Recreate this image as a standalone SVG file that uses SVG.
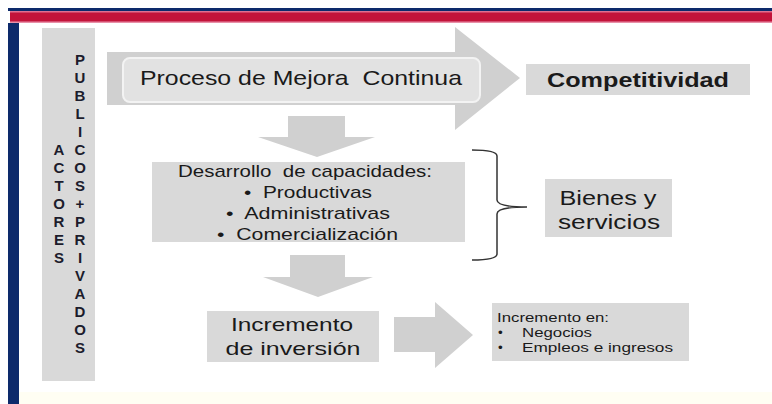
<svg xmlns="http://www.w3.org/2000/svg" width="772" height="404" viewBox="0 0 772 404">
<style>
.arrow{fill:#d0d0d0}
.box{fill:#d9d9d9}
.t{font-family:"Liberation Sans",Arial,sans-serif;fill:#1a1a1a}
.v{font-family:"Liberation Sans",Arial,sans-serif;font-weight:bold;font-size:15px;fill:#1c1c2c;text-anchor:middle}
.c{text-anchor:middle}
</style>
<rect x="0" y="0" width="772" height="404" fill="#ffffff"/>
<rect x="19" y="392" width="753" height="12" fill="#fffef3"/>
<g id="frame">
<rect x="8" y="8" width="764" height="3" fill="#0d2a6b"/>
<rect x="10" y="11" width="762" height="12" fill="#c3133a"/>
<rect x="10" y="11" width="762" height="1.5" fill="#e07090"/>
<rect x="10" y="21.5" width="762" height="1.5" fill="#e890a8"/>
<rect x="8" y="23" width="11" height="381" fill="#0d2a6b"/>
</g>
<g id="actores">
<rect class="box" x="42" y="28" width="53" height="353"/>
<text class="v" x="59"><tspan x="59" y="155">A</tspan><tspan x="59" y="173">C</tspan><tspan x="59" y="191">T</tspan><tspan x="59" y="209">O</tspan><tspan x="59" y="227">R</tspan><tspan x="59" y="245">E</tspan><tspan x="59" y="263">S</tspan></text>
<text class="v" x="80"><tspan x="80" y="65">P</tspan><tspan x="80" y="83">U</tspan><tspan x="80" y="101">B</tspan><tspan x="80" y="119">L</tspan><tspan x="80" y="137">I</tspan><tspan x="80" y="155">C</tspan><tspan x="80" y="173">O</tspan><tspan x="80" y="191">S</tspan><tspan x="80" y="209">+</tspan><tspan x="80" y="227">P</tspan><tspan x="80" y="245">R</tspan><tspan x="80" y="263">I</tspan><tspan x="80" y="281">V</tspan><tspan x="80" y="299">A</tspan><tspan x="80" y="317">D</tspan><tspan x="80" y="335">O</tspan><tspan x="80" y="353">S</tspan></text>
</g>
<g id="connectors">
<polygon class="arrow" points="107,52 455,52 455,27 520,78 455,130 455,105 107,105"/>
<polygon class="arrow" points="288,116 345,116 345,137 375,137 317,157 258,137 288,137"/>
<polygon class="arrow" points="290,255 345,255 345,277 373,277 318,297 263,277 290,277"/>
<polygon class="arrow" points="394,317 435,317 435,302 473,335 435,368 435,352 394,352"/>
<path d="M472,150 Q497,150 497,156 L497,200 Q497,207 527,207 Q497,207 497,214 L497,254 Q497,260 472,260" fill="none" stroke="#333333" stroke-width="1.5"/>
</g>
<g id="proceso">
<rect x="123" y="58" width="357" height="44" rx="7" fill="#e2e2e2" stroke="#f3f3f3" stroke-width="2"/>
<text class="t c" x="301" y="85" font-size="21" textLength="322" lengthAdjust="spacingAndGlyphs" xml:space="preserve">Proceso de Mejora  Continua</text>
</g>
<g id="competitividad">
<rect class="box" x="526" y="64" width="224" height="31"/>
<text class="t c" x="638" y="87" font-size="20" font-weight="bold" textLength="182" lengthAdjust="spacingAndGlyphs">Competitividad</text>
</g>
<g id="desarrollo">
<rect class="box" x="152" y="162" width="313" height="80"/>
<text class="t" x="178" y="177" font-size="17" textLength="254" lengthAdjust="spacingAndGlyphs" xml:space="preserve">Desarrollo  de capacidades:</text>
<text class="t" x="244" y="198" font-size="17" textLength="128" lengthAdjust="spacingAndGlyphs" xml:space="preserve">•  Productivas</text>
<text class="t" x="226" y="219" font-size="17" textLength="164" lengthAdjust="spacingAndGlyphs" xml:space="preserve">•  Administrativas</text>
<text class="t" x="217" y="240" font-size="17" textLength="181" lengthAdjust="spacingAndGlyphs" xml:space="preserve">•  Comercialización</text>
</g>
<g id="bienes">
<rect class="box" x="545" y="179" width="127" height="58"/>
<text class="t c" x="608" y="205" font-size="20" textLength="97" lengthAdjust="spacingAndGlyphs">Bienes y</text>
<text class="t c" x="609" y="229" font-size="20" textLength="102" lengthAdjust="spacingAndGlyphs">servicios</text>
</g>
<g id="inversion">
<rect class="box" x="207" y="311" width="172" height="51"/>
<text class="t c" x="292" y="331" font-size="19" textLength="122" lengthAdjust="spacingAndGlyphs">Incremento</text>
<text class="t c" x="293" y="355" font-size="19" textLength="135" lengthAdjust="spacingAndGlyphs">de inversión</text>
</g>
<g id="incremento-en">
<rect class="box" x="492" y="303" width="197" height="58"/>
<text class="t" x="497" y="322" font-size="13.5" textLength="112" lengthAdjust="spacingAndGlyphs">Incremento en:</text>
<text class="t" x="498" y="337" font-size="13.5">•</text>
<text class="t" x="522" y="337" font-size="13.5" textLength="70" lengthAdjust="spacingAndGlyphs">Negocios</text>
<text class="t" x="498" y="352" font-size="13.5">•</text>
<text class="t" x="522" y="352" font-size="13.5" textLength="151" lengthAdjust="spacingAndGlyphs">Empleos e ingresos</text>
</g>
</svg>
